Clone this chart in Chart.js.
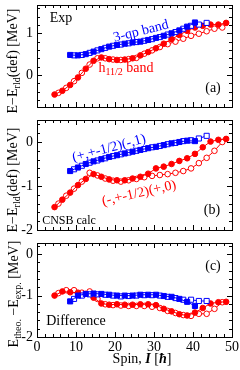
<!DOCTYPE html>
<html>
<head>
<meta charset="utf-8">
<script src="https://cdn.jsdelivr.net/npm/chart.js@4/dist/chart.umd.min.js"></script>
<style>
	html,body{margin:0;padding:0;background:#fff;}
	#wrap{position:relative;width:240px;height:370px;overflow:hidden;font-family:'Liberation Serif','Times New Roman',serif;color:#000;}
	#wrap canvas{position:absolute;left:0;}
	.lbl{position:absolute;transform:translate(-50%,-50%);white-space:nowrap;font-size:14px;line-height:1;}
	.ytitle{position:absolute;transform:translate(-50%,-50%) rotate(-90deg);white-space:nowrap;font-size:14px;line-height:1;}
	sub{font-size:10px;vertical-align:-3px;line-height:0;}
</style>
</head>
<body>
<div id="wrap">
	<canvas id="chartA" width="240" height="112" style="top:0"></canvas>
	<canvas id="chartB" width="240" height="123" style="top:112px"></canvas>
	<canvas id="chartC" width="240" height="135" style="top:235px"></canvas>

	<div class="ytitle" style="left:13px;top:61px">E&minus;E<sub>rld</sub>(def) [MeV]</div>
	<div class="ytitle" style="left:13px;top:180px">E&minus;E<sub>rld</sub>(def) [MeV]</div>
	<div class="ytitle" style="left:14px;top:294px">E<sub>theo.</sub> &minus;E<sub>exp.</sub> [MeV]</div>

	<div class="lbl" style="left:61px;top:18px">Exp</div>
	<div class="lbl" style="left:141px;top:31px;color:#00f;transform:translate(-50%,-50%) rotate(-14deg)">3-qp band</div>
	<div class="lbl" style="left:126px;top:68px;color:#f00">h<sub>11/2</sub> band</div>
	<div class="lbl" style="left:213px;top:88px">(a)</div>

	<div class="lbl" style="left:109px;top:148px;color:#00f;transform:translate(-50%,-50%) rotate(-15deg)">(+,+-1/2)(-,1)</div>
	<div class="lbl" style="left:139px;top:193px;color:#f00;transform:translate(-50%,-50%) rotate(-13deg)">(-,+-1/2)(+,0)</div>
	<div class="lbl" style="left:212px;top:210px">(b)</div>
	<div class="lbl" style="left:69px;top:220px;font-size:12px">CNSB calc</div>

	<div class="lbl" style="left:213px;top:266px">(c)</div>
	<div class="lbl" style="left:76px;top:321px">Difference</div>
	<div class="lbl" style="left:142px;top:359px">Spin, <b><i>I</i></b> [<b><i>ħ</i></b>]</div>
</div>
<script>
// spins of the two signature partners of each band
const spinRedF = [4.5,6.5,8.5,10.5,12.5,14.5,16.5,18.5,20.5,22.5,24.5,26.5,28.5,30.5,32.5,34.5,36.5,38.5,40.5,42.5,44.5,46.5,48.5];
const spinRedO = [5.5,7.5,9.5,11.5,13.5,15.5,17.5,19.5,21.5,23.5,25.5,27.5,29.5,31.5,33.5,35.5,37.5,39.5,41.5,43.5,45.5,47.5];
const spinBlueF = [8.5,10.5,12.5,14.5,16.5,18.5,20.5,22.5,24.5,26.5,28.5,30.5,32.5,34.5,36.5,38.5,40.5];
const spinBlueO = [9.5,11.5,13.5,15.5,17.5,19.5,21.5,23.5,25.5,27.5,29.5,31.5,33.5,35.5,37.5,39.5,41.5,43.5];

// (a) experiment
const expRedF = [-0.47,-0.38,-0.24,-0.06,0.15,0.34,0.42,0.38,0.36,0.37,0.40,0.47,0.55,0.64,0.75,0.86,0.96,1.06,1.14,1.18,1.21,1.21,1.25];
const expRedO = [-0.43,-0.31,-0.15,0.05,0.25,0.40,0.40,0.37,0.36,0.38,0.41,0.51,0.59,0.67,0.74,0.80,0.87,0.94,0.99,1.05,1.11,1.14];
const expBlueF = [0.48,0.47,0.50,0.56,0.62,0.68,0.72,0.75,0.78,0.80,0.84,0.89,0.94,1.00,1.07,1.16,1.26];
const expBlueO = [0.47,0.48,0.53,0.59,0.65,0.70,0.73,0.76,0.79,0.82,0.86,0.91,0.97,1.03,1.11,1.18,1.21,1.25];

// (b) CNSB calculation
const calcRedF = [-1.48,-1.31,-1.15,-0.98,-0.84,-0.73,-0.79,-0.85,-0.87,-0.87,-0.83,-0.79,-0.72,-0.60,-0.56,-0.50,-0.43,-0.37,-0.27,-0.12,0.01,0.05,0.07];
const calcRedO = [-1.40,-1.22,-1.06,-0.90,-0.70,-0.76,-0.83,-0.88,-0.90,-0.87,-0.84,-0.80,-0.77,-0.75,-0.73,-0.70,-0.66,-0.60,-0.48,-0.36,-0.20,0.00];
const calcBlueF = [-0.66,-0.58,-0.50,-0.44,-0.39,-0.34,-0.30,-0.26,-0.22,-0.18,-0.14,-0.11,-0.07,-0.03,0.00,0.03,0.02];
const calcBlueO = [-0.62,-0.54,-0.47,-0.42,-0.37,-0.32,-0.28,-0.24,-0.20,-0.16,-0.12,-0.09,-0.05,-0.02,0.02,0.04,0.08,0.14];

// (c) difference
const diffRedF = [-1.00,-0.90,-0.92,-0.93,-0.96,-1.05,-1.19,-1.22,-1.21,-1.22,-1.22,-1.21,-1.21,-1.23,-1.32,-1.38,-1.45,-1.48,-1.41,-1.30,-1.19,-1.16,-1.15];
const diffRedO = [-0.94,-0.87,-0.87,-0.93,-0.90,-1.08,-1.21,-1.23,-1.24,-1.25,-1.25,-1.25,-1.27,-1.30,-1.37,-1.42,-1.47,-1.49,-1.44,-1.44,-1.32,-1.16];
const diffBlueF = [-1.14,-1.00,-0.96,-0.95,-0.96,-0.98,-1.00,-1.00,-1.00,-0.98,-0.98,-0.98,-1.01,-1.03,-1.08,-1.15,-1.25];
const diffBlueO = [-1.08,-1.00,-0.97,-0.97,-0.98,-1.00,-1.02,-1.01,-1.00,-0.99,-0.99,-1.00,-1.03,-1.06,-1.10,-1.10,-1.13,-1.13];

// tick positions
const xTicks = [0,2,4,6,8,10,12,14,16,18,20,22,24,26,28,30,32,34,36,38,40,42,44,46,48,50];
const yTicksA = [-0.6,-0.4,-0.2,0,0.2,0.4,0.6,0.8,1,1.2,1.4,1.6];
const yTicksB = [-2,-1.8,-1.6,-1.4,-1.2,-1,-0.8,-0.6,-0.4,-0.2,0,0.2,0.4];
const yTicksC = [-2,-1.8,-1.6,-1.4,-1.2,-1,-0.8,-0.6,-0.4,-0.2,0,0.2];

(function(){
	const RED = '#ff0000', BLUE = '#0000ff';
	const FONT = { family: "'Liberation Serif','Times New Roman',serif", size: 14 };
	const isMajor = v => Math.abs(v - Math.round(v)) < 1e-6;

	function series(spins, vals, color, open, shape){
		return {
			data: spins.map((s,i)=>({ x: s, y: vals[i] })),
			showLine: true,
			borderColor: color,
			borderWidth: 1,
			pointStyle: shape,
			pointRadius: shape === 'rect' ? 3.6 : 2.8,
			pointBackgroundColor: open ? '#fff' : color,
			pointBorderColor: color,
			pointBorderWidth: 1
		};
	}

	// box + inward ticks on all four sides
	const frameTicks = {
		id: 'frameTicks',
		afterDatasetsDraw(chart, args, opts){
			const { ctx, chartArea: a, scales } = chart;
			ctx.save();
			ctx.strokeStyle = '#000'; ctx.lineWidth = 1;
			ctx.beginPath();
			opts.xTicks.forEach(v=>{
				const px = Math.round(scales.x.getPixelForValue(v)) + 0.5;
				const len = v % 10 === 0 ? 5 : 3;
				ctx.moveTo(px, a.bottom); ctx.lineTo(px, a.bottom - len);
				ctx.moveTo(px, a.top); ctx.lineTo(px, a.top + len);
			});
			opts.yTicks.forEach(v=>{
				const py = Math.round(scales.y.getPixelForValue(v)) + 0.5;
				const len = isMajor(v) ? 5 : 3;
				ctx.moveTo(a.left, py); ctx.lineTo(a.left + len, py);
				ctx.moveTo(a.right, py); ctx.lineTo(a.right - len, py);
			});
			ctx.stroke();
			ctx.strokeRect(Math.round(a.left) + 0.5, Math.round(a.top) + 0.5, Math.round(a.right - a.left), Math.round(a.bottom - a.top));
			ctx.restore();
		}
	};

	function makeChart(id, sets, yMin, yMax, yTicks, padTop, xHeight, showX){
		const ctx = document.getElementById(id).getContext('2d');
		return new Chart(ctx, {
			type: 'scatter',
			data: { datasets: sets },
			options: {
				responsive: false,
				animation: false,
				devicePixelRatio: 1,
				layout: { padding: { top: padTop, right: 8, bottom: 0, left: 0 } },
				plugins: { legend: { display: false }, tooltip: { enabled: false }, frameTicks: { xTicks, yTicks } },
				scales: {
					x: {
						type: 'linear', min: 0, max: 50,
						grid: { display: false, drawTicks: false }, border: { display: false },
						ticks: { display: showX, stepSize: 10, padding: 2, color: '#000', font: FONT, maxRotation: 0 },
						afterFit: s => { s.height = xHeight; s.paddingLeft = 0; s.paddingRight = 0; }
					},
					y: {
						type: 'linear', min: yMin, max: yMax,
						grid: { display: false, drawTicks: false }, border: { display: false },
						ticks: { padding: 4, color: '#000', font: FONT, callback: v => isMajor(v) ? String(Math.round(v)) : '' },
						afterBuildTicks: s => { s.ticks = yTicks.filter(isMajor).map(v=>({ value: v })); },
						afterFit: s => { s.width = 37; s.paddingTop = 0; s.paddingBottom = 0; }
					}
				}
			},
			plugins: [frameTicks]
		});
	}

	function bandSets(redF, redO, blueF, blueO){
		// blue first so it is drawn on top
		return [
			series(spinBlueF, blueF, BLUE, false, 'rect'),
			series(spinBlueO, blueO, BLUE, true, 'rect'),
			series(spinRedF, redF, RED, false, 'circle'),
			series(spinRedO, redO, RED, true, 'circle')
		];
	}

	makeChart('chartA', bandSets(expRedF, expRedO, expBlueF, expBlueO), -0.77, 1.68, yTicksA, 3, 3, false);
	makeChart('chartB', bandSets(calcRedF, calcRedO, calcBlueF, calcBlueO), -2, 0.5, yTicksB, 8, 3, false);
	makeChart('chartC', bandSets(diffRedF, diffRedO, diffBlueF, diffBlueO), -2, 0.27, yTicksC, 8, 33, true);
})();
</script>
</body>
</html>
